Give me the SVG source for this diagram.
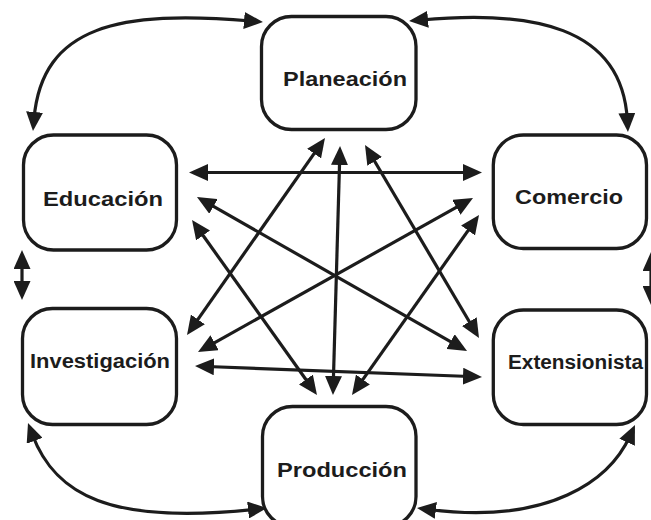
<svg xmlns="http://www.w3.org/2000/svg" width="651" height="520" viewBox="0 0 651 520">
<defs>
<style>
.box{fill:#fff;stroke:#1c1c1c;stroke-width:3.3}
.lbl{font-family:"Liberation Sans",Arial,sans-serif;font-weight:bold;font-size:19.5px;fill:#1c1c1c}
.c{fill:none;stroke:#1c1c1c;stroke-width:3.2;marker-start:url(#ah);marker-end:url(#ah)}
</style>
<marker id="ah" viewBox="0 0 19 17" refX="7" refY="8.5" markerWidth="19" markerHeight="17" markerUnits="userSpaceOnUse" orient="auto-start-reverse">
<path d="M0,0 L19,8.5 L0,17 z" fill="#1c1c1c"/>
</marker>
</defs>
<rect width="651" height="520" fill="#fff"/>
<g id="connectors">
<path class="c" d="M34,119 C42,25 120,10 251,21"/>
<path class="c" d="M627.3,120 C622,25 530,10 421,20"/>
<path class="c" d="M32.2,434.2 C55,495 110,525 255,509.3"/>
<path class="c" d="M428.9,509.5 C550,525 610,480 630,435.9"/>
<path class="c" d="M22,262 L22,288"/>
<path class="c" d="M651,264 L651,293"/>
<path class="c" d="M201,172.5 L470,172.5"/>
<path class="c" d="M207,366.5 L470,376.5"/>
<path class="c" d="M339.7,158 L333.3,383"/>
<path class="c" d="M318.1,147.8 L193.9,325.2"/>
<path class="c" d="M371.1,155.3 L472.9,327.7"/>
<path class="c" d="M207.4,202.9 L456.6,345.1"/>
<path class="c" d="M199,229.8 L310,385.2"/>
<path class="c" d="M208.5,346.1 L462.5,203.9"/>
<path class="c" d="M472.1,224.8 L358.9,385.2"/>
</g>
<g id="planeacion">
<rect class="box" x="261.5" y="16.5" width="154.5" height="113" rx="30"/>
<text class="lbl" x="283" y="85.5" textLength="124" lengthAdjust="spacingAndGlyphs">Planeación</text>
</g>
<g id="educacion">
<rect class="box" x="23.5" y="135" width="153" height="115" rx="30"/>
<text class="lbl" x="43" y="205.5" textLength="120" lengthAdjust="spacingAndGlyphs">Educación</text>
</g>
<g id="comercio">
<rect class="box" x="493.3" y="135" width="153.2" height="113.5" rx="30"/>
<text class="lbl" x="515" y="204" textLength="108" lengthAdjust="spacingAndGlyphs">Comercio</text>
</g>
<g id="investigacion">
<rect class="box" x="22.5" y="308.5" width="154" height="116" rx="30"/>
<text class="lbl" x="30" y="368.3" textLength="140" lengthAdjust="spacingAndGlyphs">Investigación</text>
</g>
<g id="extensionista">
<rect class="box" x="493.3" y="310" width="153.2" height="114.5" rx="30"/>
<text class="lbl" x="508" y="369.3" textLength="135" lengthAdjust="spacingAndGlyphs">Extensionista</text>
</g>
<g id="produccion">
<rect class="box" x="262.5" y="406.5" width="153.5" height="120" rx="30"/>
<text class="lbl" x="277" y="477.3" textLength="130" lengthAdjust="spacingAndGlyphs">Producción</text>
</g>
</svg>
